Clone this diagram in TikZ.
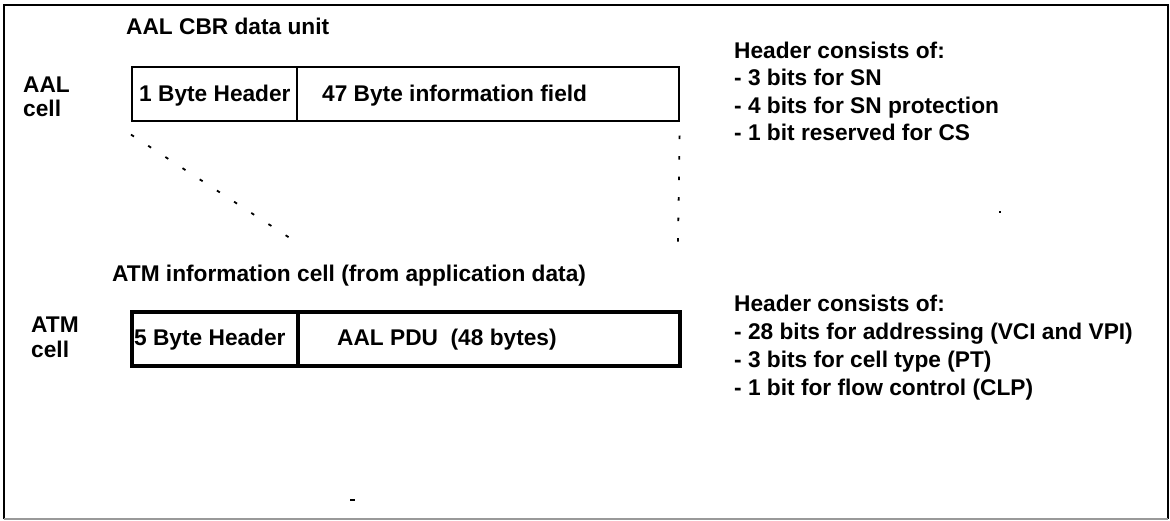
\documentclass[tikz,border=0pt]{standalone}
\usepackage{fontspec}
\newfontfamily\hvfont{Liberation Sans Bold}
\begin{document}
\begin{tikzpicture}[x=1pt,y=-1pt,
  txt/.style={anchor=base west,inner sep=0pt,font=\hvfont\fontsize{22.7}{27}\selectfont},
  thinbox/.style={draw=black,line width=1.6pt,anchor=north west,inner sep=0pt},
  thickbox/.style={draw=black,line width=3.5pt,anchor=north west,inner sep=0pt},
  dots/.style={line width=1.8pt,dash pattern=on 3.5pt off 17pt}
]
\useasboundingbox (0,0) rectangle (1170,520);
% frame
\draw[line width=2.5pt] (4,519) -- (4,5) -- (1168,5) -- (1168,519);
\draw[line width=2.5pt,black!40] (4,519) -- (1168,519);

% AAL cell
\node[txt] (titleA) at (126,34) {AAL CBR data unit};
\node[txt] (aal) at (23,92) {AAL};
\node[txt] (aalcell) at (23,116) {cell};
\node[thinbox,minimum width=165pt,minimum height=54pt] (hdrA) at (131,66) {};
\node[thinbox,minimum width=382pt,minimum height=54pt] (infoA) at (296,66) {};
\node[txt] (hdrAtxt) at (139,101) {1 Byte Header};
\node[txt] (infoAtxt) at (322,101) {47 Byte information field};

% projection lines
\coordinate (dA) at (296,242);
\coordinate (dB) at (678,242);
\draw[dots] ([yshift=-13pt]hdrA.south west) -- (dA);
\draw[dots] ([yshift=-14pt]infoA.south east) -- (dB);

% header A notes
\node[txt] (nA0) at (734,58) {Header consists of:};
\node[txt] (nA1) at (734,85.5) {- 3 bits for SN};
\node[txt] (nA2) at (734,113) {- 4 bits for SN protection};
\node[txt] (nA3) at (734,140.5) {- 1 bit reserved for CS};

% ATM cell
\node[txt] (titleB) at (112,281) {ATM information cell (from application data)};
\node[txt] (atm) at (31,332) {ATM};
\node[txt] (atmcell) at (31,357) {cell};
\node[thickbox,minimum width=166pt,minimum height=54pt] (hdrB) at (130,310) {};
\node[thickbox,minimum width=382pt,minimum height=54pt] (infoB) at (296,310) {};
\node[txt] (hdrBtxt) at (134,345) {5 Byte Header};
\node[txt] (infoBtxt) at (337,345) {AAL PDU\ \ (48 bytes)};

% header B notes
\node[txt] (nB0) at (734,311) {Header consists of:};
\node[txt] (nB1) at (734,339) {- 28 bits for addressing (VCI and VPI)};
\node[txt] (nB2) at (734,367) {- 3 bits for cell type (PT)};
\node[txt] (nB3) at (734,395) {- 1 bit for flow control (CLP)};

% scan specks
\fill (999,211) rectangle (1001,213);
\fill (350,499) rectangle (355,501);
\end{tikzpicture}
\end{document}
